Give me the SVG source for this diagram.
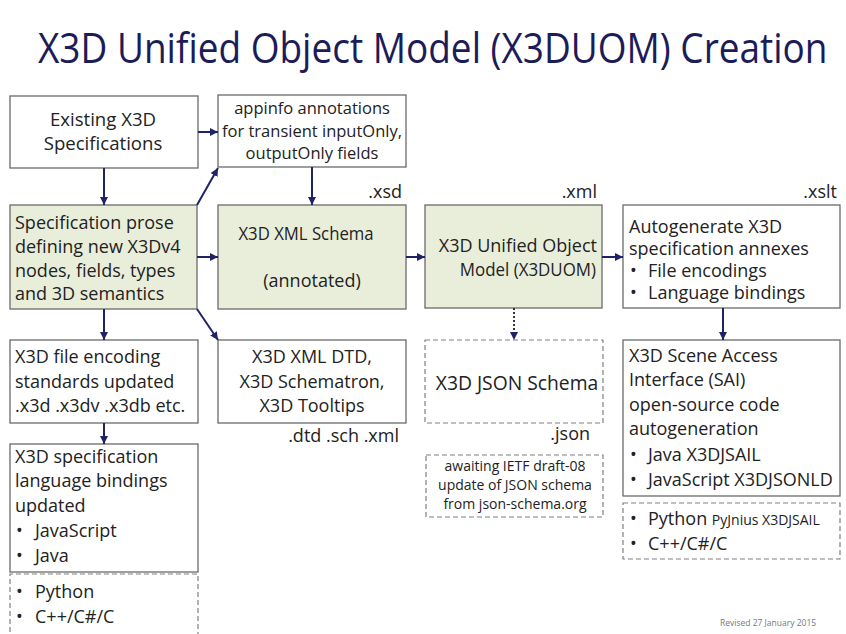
<svg xmlns="http://www.w3.org/2000/svg" width="846" height="634" viewBox="0 0 846 634">
<defs>
<marker id="ah" markerUnits="userSpaceOnUse" markerWidth="9" markerHeight="9" refX="8" refY="4" orient="auto">
<path d="M0,0 L8,4 L0,8 z" fill="#1f2366"/>
</marker>
<style>
.box{fill:#fff;stroke:#6a6a6a;stroke-width:1.3}
.grn{fill:#e9eedb;stroke:#6a6a6a;stroke-width:1.3}
.dash{fill:#fff;stroke:#808080;stroke-width:1.2;stroke-dasharray:5 3}
.t{font-family:"Open Sans","DejaVu Sans",sans-serif;font-size:18px;fill:#222}
.c{text-anchor:middle}
.r{text-anchor:end}
.s19{font-size:18.6px}
.s16{font-size:16.5px}
.s14{font-size:14px}
.con{fill:none;stroke:#1f2366;stroke-width:2}
.dot{fill:none;stroke:#333;stroke-width:2;stroke-dasharray:2 2}
</style>
</defs>
<rect width="846" height="634" fill="#fff"/>
<text transform="translate(38,63) scale(0.881,1)" x="0" y="0" font-family="'Open Sans','DejaVu Sans',sans-serif" font-size="42" fill="#1c1c58">X3D Unified Object Model (X3DUOM) Creation</text>

<g id="existing">
<rect class="box" x="10" y="96" width="188" height="72"/>
<text class="t c s19" x="103" y="126">Existing X3D</text>
<text class="t c s19" x="103" y="150">Specifications</text>
</g>
<g id="appinfo">
<rect class="box" x="218" y="95" width="188" height="72"/>
<text class="t c s16" x="312" y="114">appinfo annotations</text>
<text class="t c s16" x="312" y="137">for transient inputOnly,</text>
<text class="t c s16" x="312" y="159">outputOnly fields</text>
</g>
<g id="prose">
<rect class="grn" x="10" y="205" width="187" height="104"/>
<text class="t" x="15" y="229">Specification prose</text>
<text class="t" x="15" y="253">defining new X3Dv4</text>
<text class="t" x="15" y="277">nodes, fields, types</text>
<text class="t" x="15" y="300">and 3D semantics</text>
</g>
<g id="xsd">
<rect class="grn" x="218" y="205" width="188" height="104"/>
<text class="t r" x="402" y="198">.xsd</text>
<text class="t c" transform="translate(306,240) scale(0.93,1)" x="0" y="0">X3D XML Schema</text>
<text class="t c" x="312" y="287">(annotated)</text>
</g>
<g id="uom">
<rect class="grn" x="425" y="205" width="177" height="103"/>
<text class="t r" x="597" y="198">.xml</text>
<text class="t r" x="597" y="252">X3D Unified Object</text>
<text class="t r" transform="translate(596,276) scale(0.94,1)" x="0" y="0">Model (X3DUOM)</text>
</g>
<g id="autogen">
<rect class="box" x="623" y="205" width="217" height="103"/>
<text class="t r" x="837" y="198">.xslt</text>
<text class="t" x="629" y="233">Autogenerate X3D</text>
<text class="t" x="629" y="255">specification annexes</text>
<text class="t" x="630" y="277">•</text><text class="t" x="648" y="277">File encodings</text>
<text class="t" x="630" y="299">•</text><text class="t" x="648" y="299">Language bindings</text>
</g>
<g id="encoding">
<rect class="box" x="10" y="340" width="188" height="83"/>
<text class="t" x="15" y="363">X3D file encoding</text>
<text class="t" x="15" y="388">standards updated</text>
<text class="t" x="15" y="412">.x3d .x3dv .x3db etc.</text>
</g>
<g id="dtd">
<rect class="box" x="218" y="340" width="188" height="83"/>
<text class="t c" x="312" y="363">X3D XML DTD,</text>
<text class="t c" x="312" y="388">X3D Schematron,</text>
<text class="t c" x="312" y="412">X3D Tooltips</text>
<text class="t r" x="399" y="442">.dtd .sch .xml</text>
</g>
<g id="bindings">
<rect class="box" x="10" y="444" width="188" height="128"/>
<text class="t" x="15" y="463">X3D specification</text>
<text class="t" x="15" y="487">language bindings</text>
<text class="t" x="15" y="512">updated</text>
<text class="t" x="16" y="537">•</text><text class="t" x="35" y="537">JavaScript</text>
<text class="t" x="16" y="562">•</text><text class="t" x="35" y="562">Java</text>
</g>
<g id="bindings-more">
<path class="dash" d="M10,640 V574 H198 V640"/>
<text class="t" x="16" y="598">•</text><text class="t" x="35" y="598">Python</text>
<text class="t" x="16" y="623">•</text><text class="t" x="35" y="623">C++/C#/C</text>
</g>
<g id="json">
<rect class="dash" x="425" y="340" width="178" height="83"/>
<text class="t c" x="517" y="390" style="font-size:19.3px">X3D JSON Schema</text>
<text class="t r" x="590" y="440">.json</text>
</g>
<g id="awaiting">
<rect class="dash" x="426" y="455" width="177" height="62"/>
<text class="t c s14" x="515" y="471">awaiting IETF draft-08</text>
<text class="t c s14" x="515" y="490">update of JSON schema</text>
<text class="t c s14" x="515" y="509">from json-schema.org</text>
</g>
<g id="sai">
<rect class="box" x="623" y="340" width="217" height="156"/>
<text class="t" x="629" y="362">X3D Scene Access</text>
<text class="t" x="629" y="386">Interface (SAI)</text>
<text class="t" x="629" y="411">open-source code</text>
<text class="t" x="629" y="435">autogeneration</text>
<text class="t" x="630" y="461">•</text><text class="t" x="648" y="461">Java X3DJSAIL</text>
<text class="t" x="630" y="486">•</text><text class="t" x="648" y="486">JavaScript X3DJSONLD</text>
</g>
<g id="sai-more">
<rect class="dash" x="623" y="503" width="217" height="56"/>
<text class="t" x="630" y="525">•</text><text class="t" x="648" y="525">Python <tspan font-size="14">PyJnius X3DJSAIL</tspan></text>
<text class="t" x="630" y="550">•</text><text class="t" x="648" y="550">C++/C#/C</text>
</g>
<text x="720" y="626" font-family="'Open Sans',sans-serif" font-size="8.5" fill="#777">Revised 27 January 2015</text>

<g id="connectors">
<path class="con" marker-end="url(#ah)" d="M104,168 V205"/>
<path class="con" marker-end="url(#ah)" d="M198,132 H218"/>
<path class="con" marker-end="url(#ah)" d="M197,205 L218,168"/>
<path class="con" marker-end="url(#ah)" d="M312,167 V205"/>
<path class="con" marker-end="url(#ah)" d="M197,257 H218"/>
<path class="con" marker-end="url(#ah)" d="M197,309 L218,340"/>
<path class="con" marker-end="url(#ah)" d="M104,309 V340"/>
<path class="con" marker-end="url(#ah)" d="M406,257 H425"/>
<path class="con" marker-end="url(#ah)" d="M602,257 H623"/>
<path class="dot" marker-end="url(#ah)" d="M514,308 V340"/>
<path class="con" marker-end="url(#ah)" d="M723,308 V340"/>
<path class="con" marker-end="url(#ah)" d="M104,423 V444"/>
</g>
</svg>
